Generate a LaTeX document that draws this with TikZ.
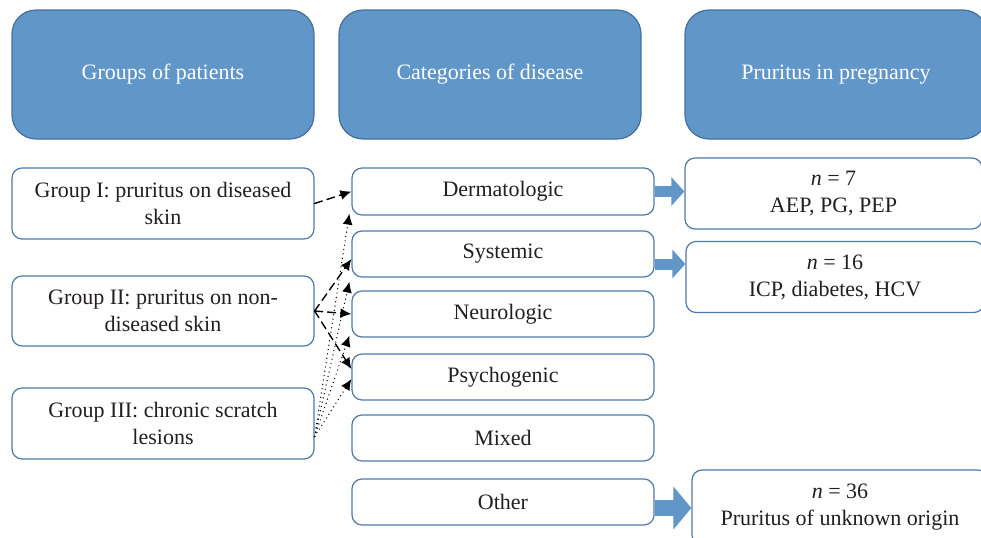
\documentclass[tikz,border=0pt]{standalone}
\usepackage{fontspec}
\setmainfont{Liberation Serif}
\usetikzlibrary{arrows.meta}

\definecolor{hdrfill}{RGB}{97,150,201}
\definecolor{hdrline}{RGB}{70,112,156}
\definecolor{boxline}{RGB}{78,122,170}
\definecolor{txt}{RGB}{35,31,32}

\begin{document}
\begin{tikzpicture}[x=0.5pt,y=-0.5pt,line cap=round,line join=round,
    hdr/.style={draw=hdrline,line width=0.6pt,fill=hdrfill,rounded corners=12pt,
      minimum width=151pt,minimum height=64.5pt,inner sep=0pt,text=white,
      font=\fontsize{11}{13.5}\selectfont},
    box/.style={draw=boxline,line width=0.6pt,rounded corners=5pt,fill=white,
      minimum width=151pt,inner sep=0pt,align=center,text=txt,
      font=\fontsize{11}{13.5}\selectfont},
    grplink/.style={line width=0.7pt,dash pattern=on 4pt off 2.5pt,
      -{Latex[length=5.5pt,width=5pt]}},
    scratchlink/.style={line width=0.7pt,dash pattern=on 0pt off 2.2pt,
      -{Latex[length=5.5pt,width=5pt]}},
    fat/.style={line cap=butt,draw=hdrfill,line width=5.5pt,
      -{Triangle[length=6.5pt,width=14pt]}}]
  \useasboundingbox (0,0) rectangle (981,537);
  \clip (0,0) rectangle (981,537);

  % headers
  \node[hdr] (hdrgroups) at (163,74.5) {Groups of patients};
  \node[hdr] (hdrcats) at (490,74.5) {Categories of disease};
  \node[hdr] (hdrpreg) at (836,74.5) {Pruritus in pregnancy};

  % groups of patients
  \node[box,minimum height=35.5pt] (grp1) at (163,203.5) {Group I: pruritus on diseased\\skin};
  \node[box,minimum height=35pt] (grp2) at (163,311) {Group II: pruritus on non-\\diseased skin};
  \node[box,minimum height=35.5pt] (grp3) at (163,423.5) {Group III: chronic scratch\\lesions};

  % categories
  \node[box,minimum height=23.5pt] (derm) at (503,191.5) {Dermatologic};
  \node[box,minimum height=23pt] (syst) at (503,254) {Systemic};
  \node[box,minimum height=23pt] (neuro) at (503,314) {Neurologic};
  \node[box,minimum height=23pt] (psych) at (503,377) {Psychogenic};
  \node[box,minimum height=23pt] (mixed) at (503,438) {Mixed};
  \node[box,minimum height=23pt] (other) at (503,502) {Other};

  % pregnancy
  \node[box,minimum width=148.5pt,minimum height=35.5pt] (preg7) at (833.5,193.5) {\textit{n} = 7\\AEP, PG, PEP};
  \node[box,minimum width=149pt,minimum height=35.5pt] (preg16) at (835,277) {\textit{n} = 16\\ICP, diabetes, HCV};
  \node[box,minimum width=148pt,minimum height=37.5pt] (preg36) at (840,507.5) {\textit{n} = 36\\Pruritus of unknown origin};

  % group links
  \draw[grplink] (grp1.east) -- (derm.west);
  \draw[grplink] (grp2.east) -- ([yshift=-2.5pt]syst.west);
  \draw[grplink] (grp2.east) -- (neuro.west);
  \draw[grplink] (grp2.east) -- ([yshift=4pt]psych.west);
  \draw[scratchlink] ([yshift=-6.5pt]grp3.east) -- ([shift={(-1pt,1pt)}]derm.south west);
  \draw[scratchlink] ([yshift=-6.5pt]grp3.east) -- ([shift={(-1pt,-2pt)}]syst.south west);
  \draw[scratchlink] ([yshift=-6.5pt]grp3.east) -- ([shift={(-1pt,1pt)}]neuro.south west);
  \draw[scratchlink] ([yshift=-6.5pt]grp3.east) -- ([yshift=-1pt]psych.west);

  % fat arrows
  \draw[fat] (derm.east) -- (derm.east -| preg7.west);
  \draw[fat] ([yshift=-5pt]syst.east) -- ([yshift=-5pt]syst.east -| preg16.west);
  \draw[fat,line width=8pt,-{Triangle[length=9pt,width=21pt]}]
        ([yshift=-3pt]other.east) -- ([yshift=-3pt]other.east -| preg36.west);
\end{tikzpicture}
\end{document}
